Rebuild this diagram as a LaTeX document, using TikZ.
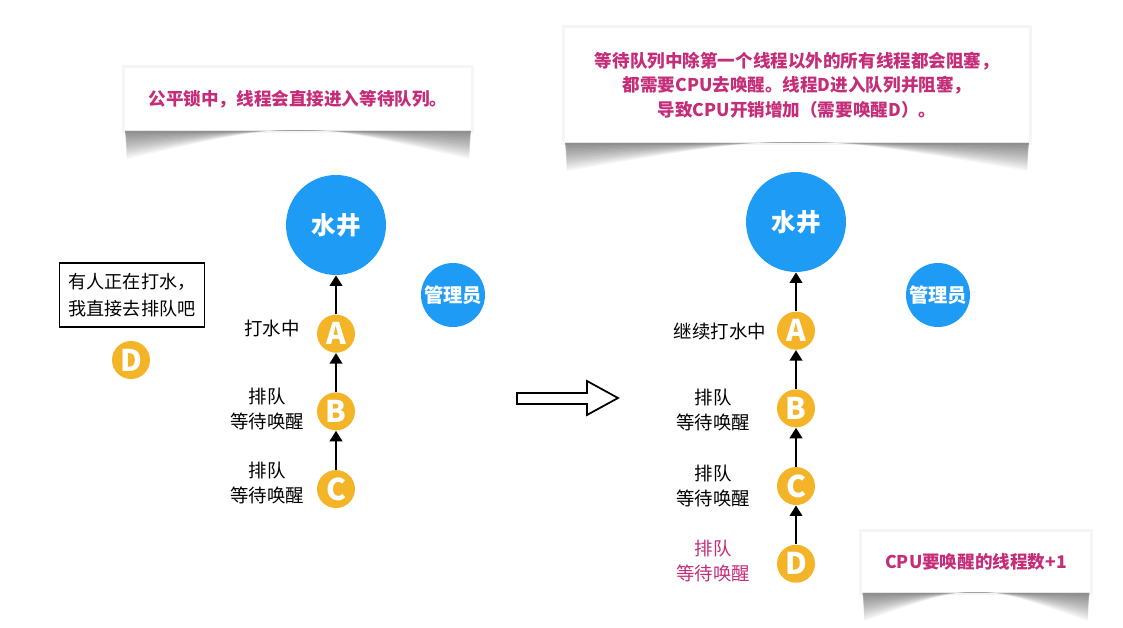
\documentclass[tikz,border=0pt]{standalone}
\usepackage{fontspec}
\setmainfont{Noto Sans CJK SC}
\usetikzlibrary{positioning,arrows.meta,calc,backgrounds}
\definecolor{wellblue}{RGB}{30,155,245}
\definecolor{lockorange}{RGB}{244,180,40}
\definecolor{notepink}{RGB}{196,45,120}

% soft curled shadow under a note
\newcommand{\curlshadow}[1]{%
  \fill[black,opacity=0.04] ([shift={(-1.5pt,1pt)}]#1.north west) rectangle ([shift={(1.5pt,-1.5pt)}]#1.south east);
  \foreach \d in {2,...,16}{
    \fill[black,opacity=0.035] ([xshift=0.5pt]#1.south west)
      -- ([xshift=1.5pt,yshift=-\d pt]#1.south west)
      .. controls ($(#1.south)+(0,0.4*\d pt)$) .. ([xshift=-1.5pt,yshift=-\d pt]#1.south east)
      -- ([xshift=-0.5pt]#1.south east) -- cycle;
  }}

\begin{document}
\begin{tikzpicture}[x=0.02cm,y=-0.02cm,
  node distance=0.78cm,
  well/.style={circle,fill=wellblue,text=white,minimum size=2cm,inner sep=0pt,
    font=\fontsize{14}{16}\selectfont\bfseries},
  keeper/.style={circle,fill=wellblue,text=white,minimum size=1.28cm,inner sep=0pt,
    font=\fontsize{11}{13}\selectfont\bfseries},
  thread/.style={circle,fill=lockorange,text=white,minimum size=0.76cm,inner sep=0pt,
    font=\fontsize{17}{19}\selectfont\bfseries},
  tag/.style={align=center,font=\fontsize{10.5}{14}\selectfont},
  note/.style={fill=white,align=center,text=notepink,inner sep=0pt,
    font=\fontsize{10}{14}\selectfont\bfseries},
  arr/.style={-{Triangle[length=6pt,width=7pt]},line width=1.6pt}
]
\useasboundingbox (0,0) rectangle (1123,628);

% left: fair lock, before
\node[note,minimum width=6.94cm,minimum height=1.26cm] (fair) at (298,99)
  {公平锁中，线程会直接进入等待队列。};
\node[well] (well1) at (336,225) {水井};
\node[keeper] (keep1) at (453,295) {管理员};
\node[thread,below=of well1] (a1) {A};
\node[thread,below=of a1] (b1) {B};
\node[thread,below=of b1] (c1) {C};
\node[tag] (ta1) at (272,328) {打水中};
\node[tag] (tb1) at (267,409) {排队\\等待唤醒};
\node[tag] (tc1) at (267,483) {排队\\等待唤醒};
\node[draw,line width=0.85pt,minimum width=2.9cm,minimum height=1.28cm,align=left,
  font=\fontsize{10.3}{15}\selectfont] (say) at (132,295) {有人正在打水，\\我直接去排队吧};
\node[thread] (d1) at (131,360) {D};
\draw[arr] (a1) -- (well1);
\draw[arr] (b1) -- (a1);
\draw[arr] (c1) -- (b1);

% transition
\draw[line width=1pt,fill=white] (517,393) -- (587,393) -- (587,381) -- (618,398)
  -- (587,415) -- (587,404) -- (517,404) -- cycle;

% right: fair lock, after
\node[note,minimum width=9.3cm,minimum height=2.3cm] (cost) at (797,85)
  {等待队列中除第一个线程以外的所有线程都会阻塞，\\都需要CPU去唤醒。线程D进入队列并阻塞，\\导致CPU开销增加（需要唤醒D）。};
\node[well] (well2) at (796,222) {水井};
\node[keeper] (keep2) at (938,295) {管理员};
\node[thread,below=of well2] (a2) {A};
\node[thread,below=of a2] (b2) {B};
\node[thread,below=of b2] (c2) {C};
\node[thread,below=of c2] (d2) {D};
\node[tag] (ta2) at (720,331) {继续打水中};
\node[tag] (tb2) at (713,410) {排队\\等待唤醒};
\node[tag] (tc2) at (713,486) {排队\\等待唤醒};
\node[tag,text=notepink] (td2) at (713,561) {排队\\等待唤醒};
\node[note,minimum width=4.56cm,minimum height=1.22cm] (plus) at (976,562)
  {CPU要唤醒的线程数+1};
\draw[arr] (a2) -- (well2);
\draw[arr] (b2) -- (a2);
\draw[arr] (c2) -- (b2);
\draw[arr] (d2) -- (c2);

\begin{scope}[on background layer]
  \curlshadow{fair}
  \curlshadow{cost}
  \curlshadow{plus}
\end{scope}
\end{tikzpicture}
\end{document}
